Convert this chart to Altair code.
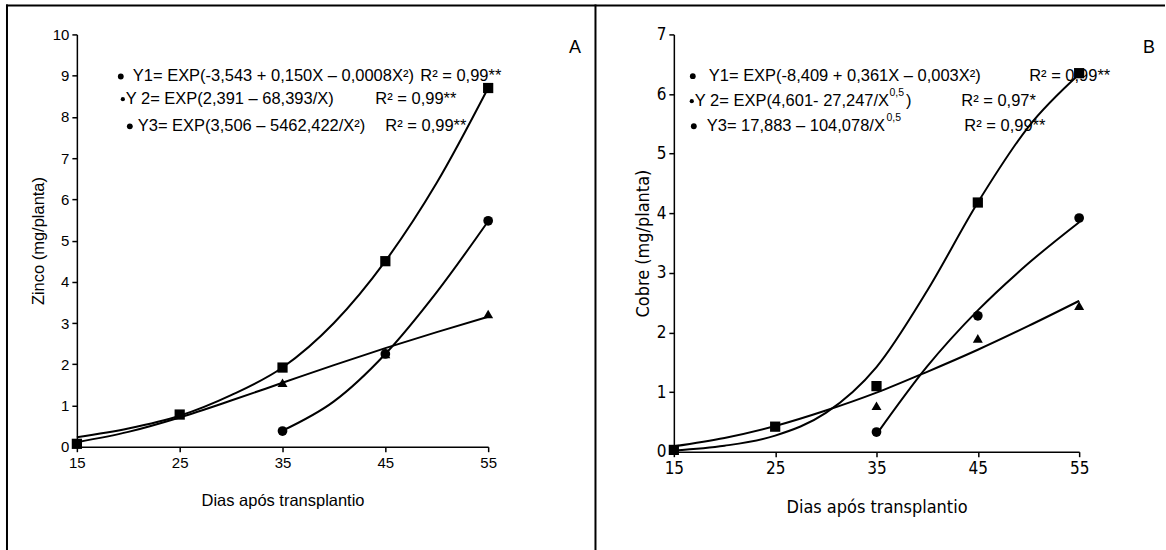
import altair as alt
import pandas as pd

# ---------------- data ----------------
DAYS = [15, 25, 35, 45, 55]
DAYS_LATE = [35, 45, 55]
FIT_X = [15, 20, 25, 30, 35, 40, 45, 50, 55]
FIT_X_LATE = [35, 40, 45, 50, 55]

# Panel A - Zinco (mg/planta)
ZN_SQUARE = [0.07, 0.78, 1.92, 4.50, 8.70]
ZN_CIRCLE = [0.38, 2.25, 5.48]
ZN_TRIANGLE = [1.55, 2.25, 3.22]
ZN_FIT_SQUARE = [0.23, 0.44, 0.75, 1.25, 1.92, 3.00, 4.50, 6.40, 8.70]
ZN_FIT_TRIANGLE = [0.11, 0.36, 0.71, 1.12, 1.55, 1.98, 2.39, 2.78, 3.15]
ZN_FIT_CIRCLE = [0.39, 1.10, 2.25, 3.75, 5.47]

# Panel B - Cobre (mg/planta)
CU_SQUARE = [0.03, 0.42, 1.10, 4.18, 6.35]
CU_CIRCLE = [0.33, 2.28, 3.92]
CU_TRIANGLE = [0.77, 1.90, 2.45]
CU_FIT_SQUARE = [0.02, 0.10, 0.27, 0.65, 1.42, 2.70, 4.18, 5.45, 6.33]
CU_FIT_TRIANGLE = [0.09, 0.23, 0.43, 0.69, 0.99, 1.34, 1.71, 2.11, 2.53]
CU_FIT_CIRCLE = [0.29, 1.43, 2.37, 3.16, 3.85]

X_TICKS = [15, 25, 35, 45, 55]

# equation annotations (x in days, y in axis units)
ZN_BULLETS = {"x": [19.27, 19.47, 20.15], "y": [8.98, 8.43, 7.77], "s": [34, 18, 34]}
ZN_EQ_TEXT = ["Y1= EXP(-3,543 + 0,150X \u2013 0,0008X\u00b2)",
              "Y 2= EXP(2,391 \u2013 68,393/X)",
              "Y3= EXP(3,506 \u2013 5462,422/X\u00b2)"]
ZN_EQ_X = [20.44, 19.75, 20.92]
ZN_R2_TEXT = ["R\u00b2 = 0,99**", "R\u00b2 = 0,99**", "R\u00b2 = 0,99**"]
ZN_R2_X = [48.4, 44.03, 45.0]

CU_BULLETS = {"x": [16.87, 16.77, 16.97], "y": [6.30, 5.88, 5.46], "s": [34, 18, 34]}
CU_EQ_TEXT = ["Y1= EXP(-8,409 + 0,361X \u2013 0,003X\u00b2)",
              "Y 2= EXP(4,601- 27,247/X",
              "Y3= 17,883 \u2013 104,078/X"]
CU_EQ_X = [18.45, 17.07, 18.25]
CU_SUP = {"x": [36.28, 35.99], "y": [6.02, 5.60], "t": ["0,5", "0,5"]}
CU_PAREN = {"x": [37.9], "y": [5.88], "t": [")"]}
CU_R2_TEXT = ["R\u00b2 = 0,99**", "R\u00b2 = 0,97*", "R\u00b2 = 0,99**"]
CU_R2_X = [50.07, 43.37, 43.67]

# ---------------- layout ----------------
XL0, YT = 76, 33          # left plot origin (px)
WL, HL = 412, 413
XR0 = 674
WR, HR = 406, 418
SPACING = XR0 - (XL0 + WL)

FONT = "Liberation Sans, Arial, sans-serif"
NARROW = "Liberation Sans Narrow, Arial Narrow, DejaVu Sans Condensed, sans-serif"
EQ_SIZE = 16.5


def pts(xs, ys):
    return pd.DataFrame({"x": xs, "y": ys})


def panel(xs_sq, sq, xs_late, ci, tr, fit_sq, fit_tr, fit_ci, ymax, ytitle,
          tickfont, tsize, titlesize, xtpad, ytpad, bullets, eq_text, eq_x,
          r2_text, r2_x, letter, letter_xy, w, h, sup=None, paren=None, frames=None):
    xenc = alt.X("x:Q", scale=alt.Scale(domain=[15, 55], nice=False, zero=False),
                 axis=alt.Axis(values=X_TICKS, title="Dias após transplantio",
                               labelFont=tickfont, labelFontSize=tsize,
                               titleFont=tickfont, titleFontSize=titlesize,
                               titleFontWeight="normal", tickSize=5, labelPadding=4,
                               titlePadding=xtpad, domainWidth=1.5, tickWidth=1.5,
                               grid=False, labelFlush=False))
    yenc = alt.Y("y:Q", scale=alt.Scale(domain=[0, ymax], nice=False),
                 axis=alt.Axis(values=list(range(ymax + 1)), title=ytitle,
                               labelFont=tickfont, labelFontSize=tsize,
                               titleFont=tickfont, titleFontSize=titlesize,
                               titleFontWeight="normal", tickSize=5, labelPadding=3,
                               titlePadding=ytpad, domainWidth=1.5, tickWidth=1.5,
                               grid=False, labelFlush=False))
    layers = []
    if frames:
        layers.extend(frames)
    fits = pd.concat([
        pd.DataFrame({"x": FIT_X, "y": fit_sq, "s": "sq"}),
        pd.DataFrame({"x": FIT_X, "y": fit_tr, "s": "tr"}),
        pd.DataFrame({"x": FIT_X_LATE, "y": fit_ci, "s": "ci"}),
    ])
    layers.append(alt.Chart(fits).mark_line(color="black", strokeWidth=2,
                                            interpolate="monotone")
                  .encode(x=xenc, y=yenc, detail="s:N"))
    layers.append(alt.Chart(pts(xs_late, tr)).mark_point(
        shape="triangle-up", filled=True, size=100, color="black", opacity=1)
        .encode(x=xenc, y=yenc))
    layers.append(alt.Chart(pts(xs_late, ci)).mark_point(
        shape="circle", filled=True, size=95, color="black", opacity=1)
        .encode(x=xenc, y=yenc))
    # annotations
    bdf = pd.DataFrame(bullets)
    layers.append(alt.Chart(bdf).mark_circle(color="black", opacity=1)
                  .encode(x=xenc, y=yenc, size=alt.Size("s:Q", scale=None, legend=None)))
    edf = pd.DataFrame({"x": eq_x, "y": bullets["y"], "t": eq_text})
    layers.append(alt.Chart(edf).mark_text(align="left", baseline="middle", font=FONT,
                                           fontSize=EQ_SIZE, color="black")
                  .encode(x=xenc, y=yenc, text="t:N"))
    rdf = pd.DataFrame({"x": r2_x, "y": bullets["y"], "t": r2_text})
    layers.append(alt.Chart(rdf).mark_text(align="left", baseline="middle", font=FONT,
                                           fontSize=EQ_SIZE, color="black")
                  .encode(x=xenc, y=yenc, text="t:N"))
    if sup:
        layers.append(alt.Chart(pd.DataFrame(sup)).mark_text(
            align="left", baseline="middle", font=FONT, fontSize=10.5, color="black")
            .encode(x=xenc, y=yenc, text="t:N"))
    if paren:
        layers.append(alt.Chart(pd.DataFrame(paren)).mark_text(
            align="left", baseline="middle", font=FONT, fontSize=EQ_SIZE, color="black")
            .encode(x=xenc, y=yenc, text="t:N"))
    ldf = pd.DataFrame({"x": [letter_xy[0]], "y": [letter_xy[1]], "t": [letter]})
    layers.append(alt.Chart(ldf).mark_text(align="center", baseline="middle", font=FONT,
                                           fontSize=18, color="black")
                  .encode(x=xenc, y=yenc, text="t:N"))
    layers.append(alt.Chart(pts(xs_sq, sq)).mark_point(
        shape="square", filled=True, size=105, color="black", opacity=1)
        .encode(x=xenc, y=yenc))
    return alt.layer(*layers).properties(width=w, height=h)


one = pd.DataFrame({"a": [0]})
frame_left = alt.Chart(one).mark_rule(color="black", strokeWidth=2).encode(
    x=alt.value(6 - XL0), y=alt.value(3 - YT), y2=alt.value(550 - YT))
frame_top = alt.Chart(one).mark_rule(color="black", strokeWidth=2).encode(
    x=alt.value(5 - XL0), x2=alt.value(1166 - XL0), y=alt.value(4 - YT))
frame_div = alt.Chart(one).mark_rule(color="black", strokeWidth=2).encode(
    x=alt.value(595.5 - XL0), y=alt.value(3 - YT), y2=alt.value(550 - YT))

left = panel(DAYS, ZN_SQUARE, DAYS_LATE, ZN_CIRCLE, ZN_TRIANGLE,
             ZN_FIT_SQUARE, ZN_FIT_TRIANGLE, ZN_FIT_CIRCLE, 10, "Zinco (mg/planta)",
             FONT, 15, 16.5, 22, 6, ZN_BULLETS, ZN_EQ_TEXT, ZN_EQ_X, ZN_R2_TEXT,
             ZN_R2_X, "A", (63.45, 9.66), WL, HL,
             frames=[frame_left, frame_top, frame_div])

right = panel(DAYS, CU_SQUARE, DAYS_LATE, CU_CIRCLE, CU_TRIANGLE,
              CU_FIT_SQUARE, CU_FIT_TRIANGLE, CU_FIT_CIRCLE, 7, "Cobre (mg/planta)",
              NARROW, 17, 18, 22, 4, CU_BULLETS, CU_EQ_TEXT, CU_EQ_X, CU_R2_TEXT,
              CU_R2_X, "B", (61.9, 6.77), WR, HR, sup=CU_SUP, paren=CU_PAREN)

chart = alt.hconcat(left, right, spacing=SPACING, bounds="flush").properties(
    padding={"left": 5, "top": 3, "right": 0, "bottom": 0},
    background="white",
).configure_view(stroke=None).configure_axis(
    domainColor="black", tickColor="black", labelColor="black", titleColor="black")

chart.save("out.html", embed_options={"renderer": "svg", "actions": False})
